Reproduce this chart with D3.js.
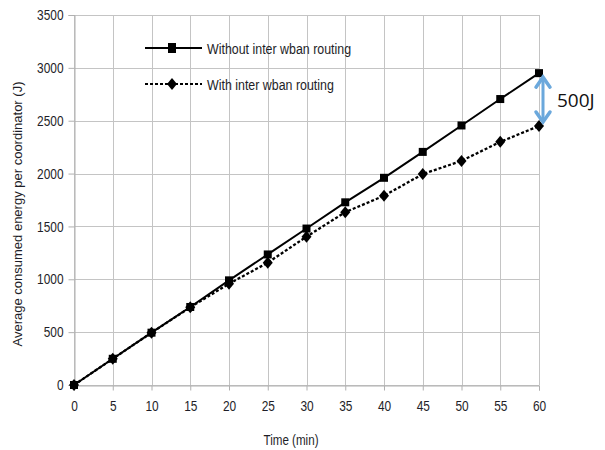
<!DOCTYPE html>
<html>
<head>
<meta charset="utf-8">
<script src="https://cdn.jsdelivr.net/npm/d3@7"></script>
<style>
  html, body { margin: 0; padding: 0; background: #fff; }
  svg { display: block; }
</style>
</head>
<body>
<div id="chart"></div>
<script>
// Energy consumption per coordinator over time
const times = [0, 5, 10, 15, 20, 25, 30, 35, 40, 45, 50, 55, 60];
const withoutRouting = [0, 248, 495, 738, 990, 1235, 1480, 1728, 1960, 2205, 2455, 2705, 2950];
const withRouting = [0, 248, 495, 735, 958, 1157, 1403, 1635, 1790, 1995, 2120, 2300, 2450];
const seriesNames = ["Without inter wban routing", "With inter wban routing"];
const xTicks = [0, 5, 10, 15, 20, 25, 30, 35, 40, 45, 50, 55, 60];
const yTicks = [0, 500, 1000, 1500, 2000, 2500, 3000, 3500];
const gapLabel = "500J";

const W = 605, H = 450;
const margin = { left: 74, right: 66, top: 15, bottom: 65 };
const sans = "'Liberation Sans', Arial, sans-serif";

const svg = d3.select("#chart").append("svg").attr("width", W).attr("height", H);

const x = d3.scaleLinear().domain([0, 60]).range([margin.left, W - margin.right]);
const y = d3.scaleLinear().domain([0, 3500]).range([H - margin.bottom, margin.top]);

// condense a text element horizontally (narrow face look)
function condense(sel, k) {
  sel.each(function () {
    const len = this.getComputedTextLength();
    d3.select(this).attr("textLength", len * k).attr("lengthAdjust", "spacingAndGlyphs");
  });
}

// grid
const grid = svg.append("g").attr("stroke", "#c4c4c4").attr("stroke-width", 1);
grid.selectAll("line.v").data(xTicks).join("line")
  .attr("x1", d => Math.round(x(d)) + 0.5).attr("x2", d => Math.round(x(d)) + 0.5)
  .attr("y1", y(3500)).attr("y2", y(0));
grid.selectAll("line.h").data(yTicks).join("line")
  .attr("y1", d => Math.round(y(d)) + 0.5).attr("y2", d => Math.round(y(d)) + 0.5)
  .attr("x1", x(0)).attr("x2", x(60));

// axes
const xAxis = svg.append("g")
  .attr("transform", `translate(0,${Math.round(y(0)) + 0.5})`)
  .call(d3.axisBottom(x).tickValues(xTicks).tickFormat(d3.format("d")).tickSize(5).tickPadding(10));
const yAxis = svg.append("g")
  .attr("transform", `translate(${Math.round(x(0)) + 0.5},0)`)
  .call(d3.axisLeft(y).tickValues(yTicks).tickFormat(d3.format("d")).tickSize(6).tickPadding(5));
[xAxis, yAxis].forEach(a => {
  a.select(".domain").attr("stroke", "#b0b0b0");
  a.selectAll(".tick line").attr("stroke", "#b0b0b0");
  a.selectAll(".tick text").attr("fill", "#1e1e28").style("font-family", sans).style("font-size", "14.5px")
    .call(condense, 0.82);
});

// axis titles
svg.append("text")
  .attr("x", 291).attr("y", 445)
  .attr("text-anchor", "middle")
  .style("font-family", sans).style("font-size", "14.5px").attr("fill", "#1e1e28")
  .text("Time (min)")
  .call(condense, 0.8);
svg.append("text")
  .attr("transform", `translate(22,214) rotate(-90)`)
  .attr("text-anchor", "middle")
  .style("font-family", sans).style("font-size", "13px").attr("fill", "#1e1e28")
  .text("Average consumed energy per coordinator (J)");

// series
const line = d3.line().x((d, i) => x(times[i])).y(d => y(d));
svg.append("path").datum(withRouting).attr("d", line)
  .attr("fill", "none").attr("stroke", "#000").attr("stroke-width", 2.3).attr("stroke-dasharray", "3,2");
svg.append("path").datum(withoutRouting).attr("d", line)
  .attr("fill", "none").attr("stroke", "#000").attr("stroke-width", 2);

// diamond marker, slightly wider than d3's default proportions
const diamondPath = "M0,-6L5,0L0,6L-5,0Z";
svg.append("g").selectAll("path").data(withRouting).join("path")
  .attr("d", diamondPath)
  .attr("transform", (d, i) => `translate(${x(times[i])},${y(d)})`)
  .attr("fill", "#000");
svg.append("g").selectAll("rect").data(withoutRouting).join("rect")
  .attr("x", (d, i) => x(times[i]) - 4).attr("y", d => y(d) - 4)
  .attr("width", 8).attr("height", 8).attr("fill", "#000");

// legend
const legend = svg.append("g");
const legendRows = [
  { name: seriesNames[0], y: 48, dash: null, marker: "square" },
  { name: seriesNames[1], y: 84, dash: "3,2", marker: "diamond" }
];
legendRows.forEach(r => {
  legend.append("line").attr("x1", 145).attr("x2", 202).attr("y1", r.y).attr("y2", r.y)
    .attr("stroke", "#000").attr("stroke-width", 2).attr("stroke-dasharray", r.dash);
  if (r.marker === "square") {
    legend.append("rect").attr("x", 168).attr("y", r.y - 5).attr("width", 8).attr("height", 10).attr("fill", "#000");
  } else {
    legend.append("path").attr("d", diamondPath).attr("transform", `translate(172,${r.y})`).attr("fill", "#000");
  }
  legend.append("text").attr("x", 207).attr("y", r.y + 5.5)
    .style("font-family", sans).style("font-size", "15.5px").attr("fill", "#1e1e28")
    .text(r.name)
    .call(condense, 0.8);
});

// gap annotation between the two series at the last time point
const last = times.length - 1;
const ax = x(times[last]) + 4;
const yTop = y(withoutRouting[last]) + 4;
const yBot = y(withRouting[last]) - 4;
const blue = "#6ba8dc";
const ann = svg.append("g").attr("stroke", blue).attr("fill", "none").attr("stroke-linecap", "round");
ann.append("line").attr("x1", ax).attr("x2", ax).attr("y1", yTop + 2).attr("y2", yBot - 2).attr("stroke-width", 3);
ann.append("path").attr("d", `M${ax - 7},${yTop + 10} L${ax},${yTop} L${ax + 7},${yTop + 10}`).attr("stroke-width", 3.5);
ann.append("path").attr("d", `M${ax - 7},${yBot - 10} L${ax},${yBot} L${ax + 7},${yBot - 10}`).attr("stroke-width", 3.5);
svg.append("text").attr("x", ax + 14).attr("y", (yTop + yBot) / 2 + 7)
  .style("font-family", "'Open Sans', 'Liberation Sans', sans-serif").style("font-size", "19px").attr("fill", "#111")
  .text(gapLabel);
</script>
</body>
</html>
